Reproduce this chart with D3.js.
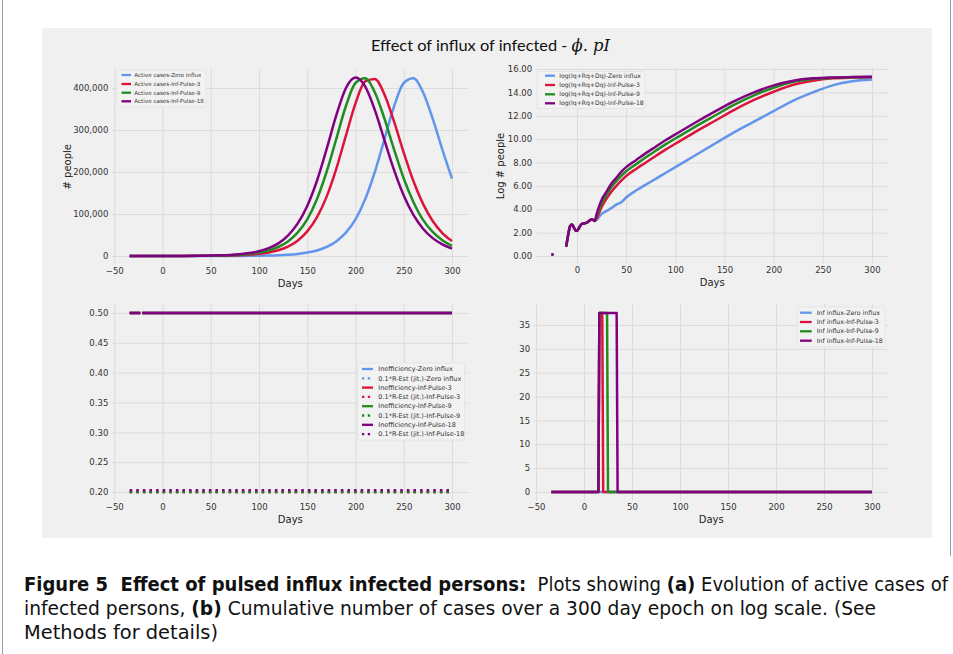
<!DOCTYPE html>
<html><head><meta charset="utf-8">
<script src="https://cdn.jsdelivr.net/npm/d3@7"></script>
<style>body{margin:0;background:#fff}text{white-space:pre}</style>
</head><body><svg id="c" width="953" height="654"></svg>
<script>
// ---------------- DATA ----------------
const seriesNames = ["Zero influx", "Inf-Pulse-3", "Inf-Pulse-9", "Inf-Pulse-18"];
const seriesColors = ["#6495ED", "#DC143C", "#228B22", "#800080"];

// (a) Active cases (thousands of people)
const activeDays = [-34,-30,-20,-10,0,10,20,30,40,50,60,70,80,90,100,110,120,130,140,150,160,170,180,190,200,210,220,230,240,250,260,270,280,290,300];
const activeZero  = [0,0,0,0,0,0,0.01,0.02,0.03,0.06,0.09,0.15,0.24,0.40,0.66,1.09,1.80,2.98,4.9,8.1,13.1,21.4,34.7,55.5,87,135,200,278,356.6,412,423,390,327,253.5,184.4];
const activePulse3  = [0.01,0.01,0.01,0.02,0.03,0.06,0.09,0.16,0.26,0.43,0.70,1.15,1.9,3.1,5.1,8.5,13.8,22.5,36.4,58.5,91.9,140.8,207,286,363.6,415.6,421.5,384.8,319.8,246.2,178.5,124.1,83.3,54.7,35.7];
const activePulse9  = [0.01,0.01,0.02,0.03,0.06,0.09,0.15,0.24,0.40,0.66,1.09,1.80,2.98,4.9,8.1,13.1,21.4,34.7,55.5,87,135,200,278,356.6,412,423,390,327,253.5,184.4,128.7,85.9,57.2,37.4,24.1];
const activePulse18 = [0.02,0.02,0.03,0.05,0.08,0.13,0.21,0.34,0.57,0.94,1.55,2.55,4.19,6.9,11.3,18.5,30.0,48.5,76.9,119,178.5,253.7,334,399.5,425,403.8,348,275.8,204.4,144,97.8,65,42.5,27.5,17.7];

// (b) log(Iq+Rq+Dq)
const logEarlyDays = [-26,-24,-23,-11,-9,-7,-5,-3,-1,0,2,5,8,10,13,15,17,18];
const logEarlyVals = [0.12,0.12,null,0.8,1.8,2.55,2.7,2.4,2.15,2.15,2.4,2.75,2.8,2.85,3.05,3.15,3.05,3.0];
const logTailDays = [20,25,30,35,40,45,50,60,70,80,90,100,120,140,160,180,200,220,240,260,280,300];
const logZero    = [3.1,3.6,3.85,4.1,4.4,4.6,5.0,5.6,6.1,6.6,7.1,7.6,8.6,9.6,10.6,11.5,12.4,13.3,14.0,14.6,14.95,15.1];
const logPulse3  = [3.2,4.2,4.9,5.5,6.0,6.45,6.85,7.45,8.0,8.55,9.1,9.6,10.6,11.55,12.5,13.35,14.05,14.65,15.0,15.2,15.27,15.3];
const logPulse9  = [3.4,4.5,5.2,5.9,6.4,6.85,7.25,7.85,8.45,9.0,9.55,10.05,11.05,12.0,12.95,13.75,14.4,14.9,15.15,15.25,15.3,15.32];
const logPulse18 = [3.6,4.8,5.5,6.2,6.7,7.2,7.6,8.2,8.8,9.35,9.9,10.4,11.4,12.35,13.25,14.0,14.6,15.0,15.2,15.28,15.31,15.33];

// (c) Inefficiency and 0.1*R-Est (jit.)
const ineffDays = [-34,-23,-22,-21,300];
const ineffVals = [0.5,0.5,null,0.5,0.5];
const rEstDays = [-34,300];
const rEstZero = [0.2,0.2];
const rEstPulse3 = [0.2,0.2];
const rEstPulse9 = [0.2,0.2];
const rEstPulse18 = [0.203,0.203];

// (d) Inf influx
const influxDays = [-34,15,16,19,20,24,25,34,35,300];
const influxZero    = [0,0,0,0,0,0,0,0,0,0];
const influxPulse3  = [0,0,37.5,37.5,0,0,0,0,0,0];
const influxPulse9  = [0,0,37.5,37.5,37.5,37.5,0,0,0,0];
const influxPulse18 = [0,0,37.5,37.5,37.5,37.5,37.5,37.5,0,0];

// tick values
const xTicksFull = [-50,0,50,100,150,200,250,300];
const xTicksLog = [0,50,100,150,200,250,300];
const yTicksActive = [0,100000,200000,300000,400000];
const yTicksLog = [0,2,4,6,8,10,12,14,16];
const yTicksIneff = [0.20,0.25,0.30,0.35,0.40,0.45,0.50];
const yTicksInflux = [0,5,10,15,20,25,30,35];

// ---------------- DRAW ----------------
const svg = d3.select("#c");
const GRID = "#dcdcdc", TXT = "#333";
svg.append("rect").attr("width",953).attr("height",654).attr("fill","#fff");
svg.append("line").attr("x1",2.5).attr("x2",2.5).attr("y1",0).attr("y2",654).attr("stroke","#8c9db3").attr("stroke-width",1);
svg.append("line").attr("x1",950.5).attr("x2",950.5).attr("y1",0).attr("y2",556).attr("stroke","#8c9db3").attr("stroke-width",1);
svg.append("rect").attr("x",42).attr("y",28).attr("width",890).attr("height",510).attr("fill","#f0f0f0");

// title
const title = svg.append("text").attr("x",371).attr("y",51).attr("font-size",16)
  .attr("font-family","Lato, 'Open Sans', sans-serif").attr("fill","#111")
  .attr("textLength",239).attr("lengthAdjust","spacingAndGlyphs");
title.append("tspan").text("Effect of influx of infected - ");
title.append("tspan").attr("font-family","'DejaVu Serif', serif").attr("font-style","italic").text("\u03D5. pI");

function panel(cfg){
  const x = d3.scaleLinear().domain(cfg.xd).range(cfg.xr);
  const y = d3.scaleLinear().domain(cfg.yd).range(cfg.yr);
  const g = svg.append("g");
  const h = cfg.yr[0]-cfg.yr[1], w = cfg.xr[1]-cfg.xr[0];
  const ax = g.append("g").attr("transform",`translate(0,${cfg.yr[0]})`)
    .call(d3.axisBottom(x).tickValues(cfg.xt).tickSize(-h).tickPadding(3).tickFormat(d3.format("")));
  const ay = g.append("g").attr("transform",`translate(${cfg.xr[0]},0)`)
    .call(d3.axisLeft(y).tickValues(cfg.yt).tickSize(-w).tickPadding(4).tickFormat(cfg.yf));
  [ax,ay].forEach(a=>{
    a.select(".domain").remove();
    a.selectAll("line").attr("stroke",GRID).attr("stroke-width",1);
    a.selectAll("text").attr("font-size",8.5).attr("fill",TXT).attr("font-family","'DejaVu Sans', sans-serif");
  });
  g.append("text").attr("x",(cfg.xr[0]+cfg.xr[1])/2).attr("y",cfg.yr[0]+22).attr("text-anchor","middle")
    .attr("font-size",10).attr("font-family","'DejaVu Sans', sans-serif").attr("fill","#222").text("Days");
  if(cfg.ylab){
    const cy=(cfg.yr[0]+cfg.yr[1])/2;
    g.append("text").attr("transform",`translate(${cfg.ylx},${cy}) rotate(-90)`).attr("text-anchor","middle")
      .attr("font-size",10).attr("font-family","'DejaVu Sans', sans-serif").attr("fill","#222").text(cfg.ylab);
  }
  cfg.lines.forEach(L=>{
    const pts = L.days.map((d,i)=>[d,L.vals[i]]);
    const gen = d3.line().defined(p=>p[1]!=null).x(p=>x(p[0])).y(p=>y(p[1]*(cfg.mult||1))).curve(L.curve||d3.curveLinear);
    g.append("path").attr("d",gen(pts)).attr("fill","none").attr("stroke",L.color)
      .attr("stroke-width",2.5).attr("stroke-dasharray",L.dash||null).attr("stroke-linejoin","round");
  });
  // legend
  const lg = cfg.legend;
  g.append("rect").attr("x",lg.x).attr("y",lg.y).attr("width",lg.w).attr("height",lg.h)
    .attr("fill","#f2f2f2").attr("stroke","#e2e2e2").attr("stroke-width",0.8).attr("rx",1.5);
  lg.items.forEach((it,i)=>{
    const yy=lg.rows[i];
    g.append("line").attr("x1",lg.hx[0]).attr("x2",lg.hx[1]).attr("y1",yy).attr("y2",yy)
      .attr("stroke",it.color).attr("stroke-width",2.3).attr("stroke-dasharray",it.dash?"2.3,3.5":null);
    g.append("text").attr("x",lg.tx).attr("y",yy).attr("dy","0.35em").attr("font-size",lg.fs)
      .attr("font-family","'DejaVu Sans', sans-serif").attr("fill","#333").text(it.label);
  });
}

// Panel (a)
panel({
  xd:[-52,317], xr:[112.3,468.4], yd:[-21000,446000], yr:[264.8,68.7],
  xt:xTicksFull, yt:yTicksActive, yf:d3.format(","), mult:1000,
  ylab:"# people", ylx:70.5,
  lines:[activeZero,activePulse3,activePulse9,activePulse18].map((v,i)=>({days:activeDays,vals:v,color:seriesColors[i],curve:d3.curveMonotoneX})),
  legend:{x:117,y:70,w:89,h:37,rows:[75,84,92.7,101.3],hx:[121.5,131],tx:134.3,fs:5.6,
    items:seriesNames.map((n,i)=>({label:"Active cases-"+n,color:seriesColors[i]}))}
});

// Panel (b)
panel({
  xd:[-41.5,316.5], xr:[536.2,888.2], yd:[-0.66,16.06], yr:[263.7,68.3],
  xt:xTicksLog, yt:yTicksLog, yf:d3.format(".2f"),
  ylab:"Log # people", ylx:504,
  lines:[logZero,logPulse3,logPulse9,logPulse18].map((v,i)=>({days:logEarlyDays.concat(logTailDays),vals:logEarlyVals.concat(v),color:seriesColors[i],curve:d3.curveMonotoneX})),
  legend:{x:537,y:71.5,w:108,h:37,rows:[75.7,85,94.3,103.3],hx:[545,555],tx:559.3,fs:6.1,
    items:seriesNames.map((n,i)=>({label:"log(Iq+Rq+Dq)-"+n,color:seriesColors[i]}))}
});

// Panel (c)
const rEstAll=[rEstZero,rEstPulse3,rEstPulse9,rEstPulse18];
const linesC=[];
seriesColors.forEach((c,i)=>{
  linesC.push({days:ineffDays,vals:ineffVals,color:c});
  linesC.push({days:rEstDays,vals:rEstAll[i],color:c,dash:"2.5,4.1"});
});
const itemsC=[];
seriesNames.forEach((n,i)=>{
  itemsC.push({label:"Inefficiency-"+n,color:seriesColors[i]});
  itemsC.push({label:"0.1*R-Est (jit.)-"+n,color:seriesColors[i],dash:true});
});
panel({
  xd:[-52,317], xr:[112.3,468.4], yd:[0.185,0.515], yr:[500.95,304.0],
  xt:xTicksFull, yt:yTicksIneff, yf:d3.format(".2f"),
  lines:linesC,
  legend:{x:357.5,y:363,w:107,h:77,rows:[369,378.3,387.6,396.9,406.2,415.5,424.8,434.1],hx:[362,373],tx:378.3,fs:6.5,items:itemsC}
});

// Panel (d)
panel({
  xd:[-52,317], xr:[534.1,888.3], yd:[-1.875,39.375], yr:[500.9,304.1],
  xt:xTicksFull, yt:yTicksInflux, yf:d3.format("d"),
  lines:[influxZero,influxPulse3,influxPulse9,influxPulse18].map((v,i)=>({days:influxDays,vals:v,color:seriesColors[i]})),
  legend:{x:797.7,y:307,w:87.3,h:39.7,rows:[312.7,322,331.3,340.7],hx:[800,811.7],tx:816.7,fs:6.25,
    items:seriesNames.map((n,i)=>({label:"Inf influx-"+n,color:seriesColors[i]}))}
});

// Caption
const capFont = "'Liberation Sans Narrow', 'DejaVu Sans Condensed', 'Liberation Sans', sans-serif";
function capLine(y,len,parts){
  const t=svg.append("text").attr("x",24).attr("y",y).attr("font-size",19).attr("font-family",capFont)
    .attr("fill","#111").attr("textLength",len).attr("lengthAdjust","spacingAndGlyphs");
  parts.forEach(p=>t.append("tspan").attr("font-weight",p[1]?"bold":"normal").text(p[0]));
}
capLine(591,924,[["Figure 5  Effect of pulsed influx infected persons:",1],["  Plots showing ",0],["(a)",1],[" Evolution of active cases of",0]]);
capLine(615,852,[["infected persons, ",0],["(b)",1],[" Cumulative number of cases over a 300 day epoch on log scale. (See",0]]);
capLine(639,194,[["Methods for details)",0]]);
</script>
</body></html>
